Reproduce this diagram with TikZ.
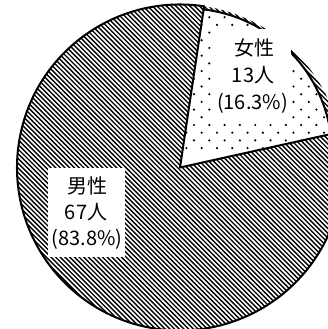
\documentclass[tikz,border=0pt]{standalone}
\usepackage{fontspec}
\newfontfamily\jpfont{Noto Sans CJK JP}
\tikzset{
  outline/.style={line width=2pt, line join=round, line cap=round},
  hatchline/.style={line width=1.35pt},
  whitebox/.style={fill=white},
  labeltext/.style={font=\jpfont\fontsize{20}{23}\selectfont, inner sep=0pt, anchor=center},
}
\begin{document}
\begin{tikzpicture}[x=1pt,y=1pt]
\useasboundingbox (0,0) rectangle (328,329);
\clip (0,0) rectangle (328,329);
\fill[white] (0,0) rectangle (328,329);
% key points
\coordinate (C) at (180,161.5);
\coordinate (T) at (204.09,322.71);
\coordinate (R) at (339.13,196.78);
\coordinate (P1) at (330.67,195.68);
% hatching of the male part
\begin{scope}
  \clip (C) circle (163pt);
  \foreach \c in {10,14.7,...,680} {
    \draw[hatchline] (\c+10,-10) -- (\c-340,340);
  }
\end{scope}
% female part: white and dotted
\fill[white] (C) -- (P1) arc[start angle=8.3,end angle=83.4,radius=146pt] -- cycle;
\begin{scope}
  \clip (C) -- (P1) arc[start angle=8.3,end angle=83.4,radius=146pt] -- cycle;
  \foreach \n [evaluate=\n as \yy using {204-7.7*\n},
               evaluate=\n as \xo using {194-7.65*mod(\n+40,2)}] in {-17,...,3} {
    \foreach \i in {-1,...,10} {
      \fill ({\xo+15.3*\i},\yy) circle (1.2pt);
    }
  }
\end{scope}
% outlines
\draw[outline] (T) arc[start angle=81.5,end angle=372.5,radius=163pt];
\draw[outline] (P1) arc[start angle=8.3,end angle=83.4,radius=146pt];
\draw[outline] (T) -- (C) -- (R);
% label backgrounds
\fill[whitebox] (48,72) rectangle (125,161);
\fill[whitebox] (216,209) rectangle (291,300);
% labels
\node[labeltext] (f1) at (254,281) {女性};
\node[labeltext] (f2) at (253,254) {13人};
\node[labeltext] (f3) at (252.5,225.5) {(16.3\%)};
\node[labeltext] (m1) at (87,143) {男性};
\node[labeltext] (m2) at (86,117) {67人};
\node[labeltext] (m3) at (87,90) {(83.8\%)};
\end{tikzpicture}
\end{document}
